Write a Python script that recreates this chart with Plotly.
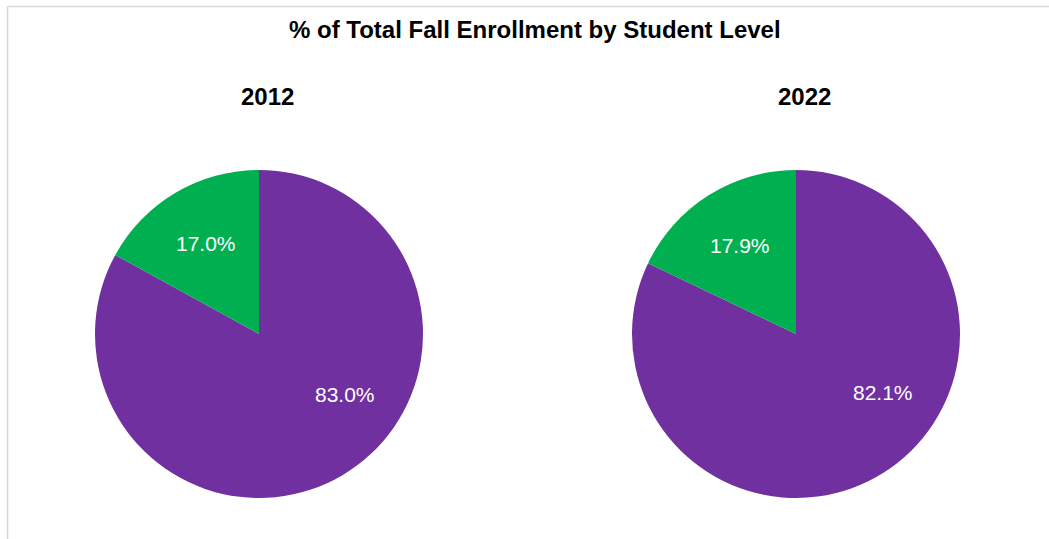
import math
import plotly.graph_objects as go

title = "% of Total Fall Enrollment by Student Level"
years = ["2012", "2022"]
levels = ["Undergraduate", "Graduate"]
values_2012 = [83.0, 17.0]
values_2022 = [82.1, 17.9]
colors = ["#7030A0", "#00B050"]

W, H = 1049, 539
R = 164                      # pie radius, px
centers = [(259, 334), (796, 334)]   # pie centres, px
label_r = 0.64               # label distance as fraction of radius
label_angle_shift = [-24, 0]  # best-fit style nudge for each slice's label

fig = go.Figure()

for yr, vals, (cx, cy) in zip(years, [values_2012, values_2022], centers):
    fig.add_trace(go.Pie(
        labels=levels, values=vals, name=yr,
        sort=False, direction="clockwise", rotation=0,
        marker=dict(colors=colors, line=dict(width=0)),
        textinfo="none",
        domain=dict(x=[(cx - R) / W, (cx + R) / W],
                    y=[1 - (cy + R) / H, 1 - (cy - R) / H]),
        hoverinfo="label+value", showlegend=False,
    ))
    # value labels placed from the slice angles
    total = sum(vals)
    start = 0.0
    for v, shift in zip(vals, label_angle_shift):
        span = 360.0 * v / total
        ang = math.radians(start + span / 2 + shift)
        start += span
        px = cx + label_r * R * math.sin(ang)
        py = cy - label_r * R * math.cos(ang)
        fig.add_annotation(text=f"{v:.1f}%", x=px / W, y=1 - py / H,
                           xref="paper", yref="paper", showarrow=False,
                           xanchor="center", yanchor="middle",
                           font=dict(family="Arial", size=21, color="white"))

fig.add_annotation(text="<b>" + title + "</b>", x=535 / W, y=1 - 30 / H,
                   xref="paper", yref="paper", showarrow=False,
                   xanchor="center", yanchor="middle",
                   font=dict(family="Arial", size=24, color="black"))
for yr, cx in zip(years, [267, 804]):
    fig.add_annotation(text="<b>" + yr + "</b>", x=cx / W, y=1 - 96 / H,
                       xref="paper", yref="paper", showarrow=False,
                       xanchor="center", yanchor="middle",
                       font=dict(family="Arial", size=24, color="black"))

# chart border (left and top edges visible)
fig.add_shape(type="line", xref="paper", yref="paper",
              x0=7.5 / W, x1=1.0, y0=1 - 6.5 / H, y1=1 - 6.5 / H,
              line=dict(color="#D9D9D9", width=1.5))
fig.add_shape(type="line", xref="paper", yref="paper",
              x0=7.5 / W, x1=7.5 / W, y0=0, y1=1 - 6.5 / H,
              line=dict(color="#D9D9D9", width=1.5))

fig.update_layout(width=W, height=H, margin=dict(l=0, r=0, t=0, b=0),
                  paper_bgcolor="white", plot_bgcolor="white")
fig.write_html("out.html", config={"displayModeBar": False},
               post_script="document.body.style.margin='0';document.body.style.overflow='hidden';")
